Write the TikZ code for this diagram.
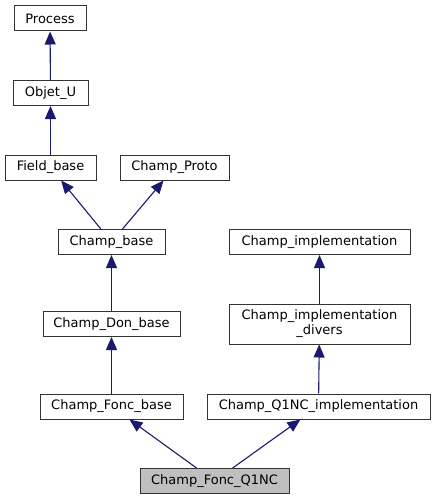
\documentclass[tikz,border=0pt]{standalone}
\usepackage{fontspec}
\setmainfont{DejaVu Sans}
\usepackage{xcolor}
\definecolor{dxedge}{rgb}{0.098, 0.098, 0.439}
\definecolor{dxframe}{rgb}{0.2, 0.2, 0.2}
\usepackage{tikz}
\usetikzlibrary{arrows.meta}

\begin{document}
\begin{tikzpicture}[x=1pt,y=-1pt,
  cls/.style={draw=dxframe,fill=white,line width=1pt,inner sep=0pt,
    minimum height=25pt,font=\fontsize{13}{15}\selectfont,align=center},
  this/.style={cls,fill=black!25},
  inh/.style={draw=dxedge,line width=1.1pt,
    -{Triangle[length=13pt,width=11pt,fill=dxedge]}}]
  \useasboundingbox (0,0) rectangle (435,500);

  % left column
  \node[cls,minimum width=72pt]  (process) at (50,18.5)    {Process};
  \node[cls,minimum width=75pt]  (objet)   at (50.5,93)    {Objet\_U};
  \node[cls,minimum width=91pt]  (field)   at (50.5,167.5) {Field\_base};
  \node[cls,minimum width=109pt] (proto)   at (174.5,167.5) {Champ\_Proto};
  \node[cls,minimum width=107pt] (cbase)   at (111.5,242)  {Champ\_base};
  \node[cls,minimum width=137pt] (donbase) at (111.5,324)  {Champ\_Don\_base};
  \node[cls,minimum width=143pt] (foncbase) at (111.5,406.5) {Champ\_Fonc\_base};

  % right column
  \node[cls,minimum width=181pt] (impl)    at (319.5,242)  {Champ\_implementation};
  \node[cls,minimum width=181pt,minimum height=40pt] (divers) at (319.5,324)
    {Champ\_implementation\\\_divers};
  \node[cls,minimum width=223pt] (q1impl)  at (318.5,406.5) {Champ\_Q1NC\_implementation};

  \node[this,minimum width=149pt] (fq1nc)  at (214.5,481)  {Champ\_Fonc\_Q1NC};

  \draw[inh] (objet) -- (process);
  \draw[inh] (field) -- (objet);
  \draw[inh] (cbase) -- (field);
  \draw[inh] (cbase) -- (proto);
  \draw[inh] (donbase) -- (cbase);
  \draw[inh] (foncbase) -- (donbase);
  \draw[inh] (divers) -- (impl);
  \draw[inh] (q1impl) -- (divers);
  \draw[inh] (fq1nc) -- (foncbase);
  \draw[inh] (fq1nc) -- (q1impl);
\end{tikzpicture}
\end{document}
